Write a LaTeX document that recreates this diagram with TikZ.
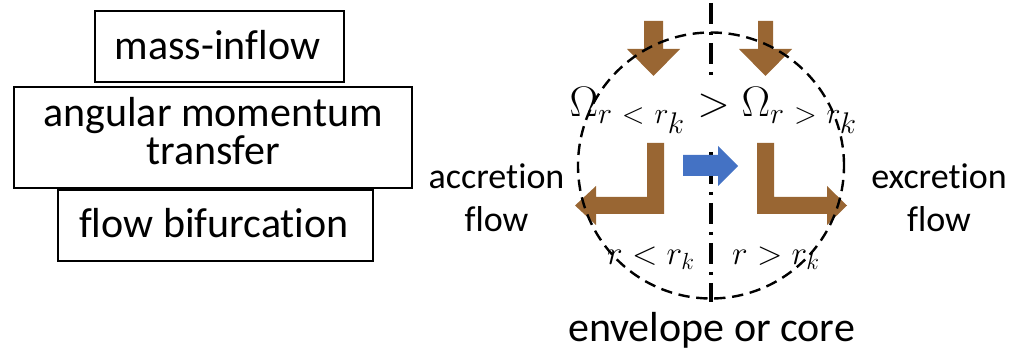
\RequirePackage{fix-cm}
\documentclass[tikz,border=0pt]{standalone}
\usepackage[no-math]{fontspec}
\setmainfont{Carlito}[Ligatures={NoCommon,NoContextual}]
\usetikzlibrary{fit}
\newcommand\stacktwo[3]{\vtop{\baselineskip=#3\lineskiplimit=-\maxdimen\halign{\hfil##\hfil\cr#1\cr#2\cr}}}
\definecolor{arrowbrown}{RGB}{153,102,51}
\definecolor{arrowblue}{RGB}{68,114,196}
\begin{document}
\begin{tikzpicture}[x=0.75pt,y=-0.75pt,
  frame/.style={draw, line width=1pt, inner sep=0pt},
  boxtext/.style={font=\fontsize{31.5}{38}\selectfont, inner sep=0pt, anchor=base},
  sidetext/.style={font=\fontsize{27}{32}\selectfont, inner sep=0pt, anchor=base},
  mathlabel/.style={font=\fontsize{25}{30}\selectfont, inner sep=0pt, anchor=base},
  brownfill/.style={fill=arrowbrown},
  bluefill/.style={fill=arrowblue},
  axisline/.style={line width=3pt, dash pattern=on 15.75pt off 6pt on 2.25pt off 6pt},
  envline/.style={line width=1.8pt, dash pattern=on 8.5pt off 5pt}]
\useasboundingbox (0,0) rectangle (1014,352);

% left stack of boxes
\node[frame, fit={(95,11)(344,82)}] (b1) {};
\node[boxtext] (t1) at (217.5,60) {mass-inflow};
\node[frame, fit={(14,87)(412,188)}] (b2) {};
\node[boxtext] (t2) at (213,127) {\stacktwo{angular momentum}{transfer}{28.5pt}};
\node[frame, fit={(58,190)(373,261)}] (b3) {};
\node[boxtext] (t3) at (214,238) {flow bifurcation};

% symmetry axis
\coordinate (vtop) at (711,3);
\coordinate (vbot) at (711,302);
\draw[axisline] (vtop) -- (vbot);

% angular velocity relation
\node[fill=white, inner xsep=4pt, inner ysep=6pt, text height=22pt, text depth=15pt,
      anchor=base, font=\fontsize{32}{38}\selectfont] (omega) at (713.5,117)
  {$\Omega_{r\mskip6mu<\mskip6mu r_{\scriptstyle k}}>\Omega_{r\mskip6mu>\mskip6mu r_{\scriptstyle k}}$};

% blue transfer arrow
\fill[bluefill] (683,155) -- (718,155) -- (718,146) -- (738,166) -- (718,186) -- (718,176) -- (683,176) -- cycle;

% inflow arrows
\fill[brownfill] (644,21) -- (663,21) -- (663,49) -- (680,49) -- (653.5,76) -- (627,49) -- (644,49) -- cycle;
\fill[brownfill] (758,21) -- (773,21) -- (773,49) -- (792,49) -- (765.5,76) -- (739,49) -- (758,49) -- cycle;

% bent outflow arrows
\fill[brownfill] (647,143) -- (664,143) -- (664,214) -- (596,214) -- (596,225) -- (575,205.5) -- (596,186) -- (596,197) -- (647,197) -- cycle;
\fill[brownfill] (757,143) -- (774,143) -- (774,197) -- (827,197) -- (827,186) -- (847,205.5) -- (827,225) -- (827,214) -- (757,214) -- cycle;

% labels
\node[sidetext] (acc) at (496.5,189) {\stacktwo{accretion}{flow}{32.25pt}};
\node[sidetext] (exc) at (939,189) {\stacktwo{excretion}{flow}{32.25pt}};
\node[mathlabel] (rin) at (651,265) {$r<r_k$};
\node[mathlabel] (rout) at (776,265) {$r>r_k$};
\node[boxtext] (env) at (711.5,342) {envelope or core};

% envelope / core boundary
\node[envline, draw, circle, minimum size=199.5pt, inner sep=0pt] (core) at (711,165.5) {};
\end{tikzpicture}
\end{document}
